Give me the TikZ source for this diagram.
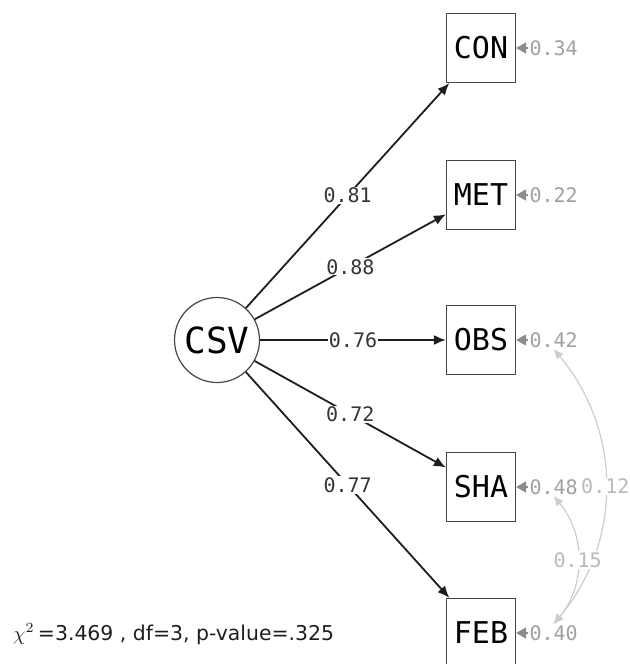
\documentclass[tikz,border=0pt]{standalone}
\usepackage{fontspec}
\setmonofont{DejaVu Sans Mono}
\setsansfont{DejaVu Sans}
\usetikzlibrary{arrows.meta, positioning}
\definecolor{semdark}{RGB}{30,30,30}
\definecolor{semframe}{RGB}{70,70,70}
\definecolor{semres}{RGB}{140,140,140}
\definecolor{semrestext}{RGB}{160,160,160}
\definecolor{semcov}{RGB}{205,205,205}

\begin{document}
\begin{tikzpicture}[x=0.5pt, y=-0.5pt,
  every node/.style={font=\ttfamily},
  latent/.style={circle, draw=semframe, line width=0.6pt, minimum size=42.5pt,
                 inner sep=0pt, font=\ttfamily\fontsize{18}{20}\selectfont},
  manifest/.style={rectangle, draw=semframe, line width=0.6pt, minimum size=34.5pt,
                   inner sep=0pt, font=\ttfamily\fontsize{15}{17}\selectfont},
  load/.style={-{Latex[length=6pt,width=5pt]}, line width=0.9pt, color=semdark},
  loadlbl/.style={fill=white, inner sep=0.5pt, text=semdark!90,
                  font=\ttfamily\fontsize{10}{12}\selectfont},
  res/.style={-{Triangle[length=5pt,width=5.5pt]}, line width=0.8pt, color=semres},
  reslbl/.style={inner sep=0.5pt, text=semrestext,
                 font=\ttfamily\fontsize{10}{12}\selectfont},
  cov/.style={{Latex[length=5pt,width=4.5pt]}-{Latex[length=5pt,width=4.5pt]},
              line width=0.6pt, color=semcov},
  covlbl/.style={fill=white, inner sep=0.5pt, text=semcov!90!black,
                 font=\ttfamily\fontsize{10}{12}\selectfont},
]
\useasboundingbox (0,0) rectangle (630,664);

% Latent factor
\node[latent] (csv) at (217,340) {CSV};

% Indicators
\node[manifest] (con) at (481,48)  {CON};
\node[manifest] (met) at (481,195) {MET};
\node[manifest] (obs) at (481,340) {OBS};
\node[manifest] (sha) at (481,487) {SHA};
\node[manifest] (feb) at (481,633) {FEB};

% Residual variances
\node[reslbl, right=6pt of con] (con-r) {0.34};
\node[reslbl, right=6pt of met] (met-r) {0.22};
\node[reslbl, right=6pt of obs] (obs-r) {0.42};
\node[reslbl, right=6pt of sha] (sha-r) {0.48};
\node[reslbl, right=6pt of feb] (feb-r) {0.40};

\draw[res] (con-r.west) -- (con.east);
\draw[res] (met-r.west) -- (met.east);
\draw[res] (obs-r.west) -- (obs.east);
\draw[res] (sha-r.west) -- (sha.east);
\draw[res] (feb-r.west) -- (feb.east);

% Loadings
\draw[load] (csv) -- node[loadlbl]{0.81} (con);
\draw[load] (csv) -- node[loadlbl]{0.88} (met);
\draw[load] (csv) -- node[loadlbl]{0.76} (obs);
\draw[load] (csv) -- node[loadlbl]{0.72} (sha);
\draw[load] (csv) -- node[loadlbl]{0.77} (feb);

% Residual covariances
\draw[cov] (obs-r.south) to[bend left=40] node[covlbl]{0.12} (feb-r.north);
\draw[cov] (sha-r.south) to[bend left=40] node[covlbl]{0.15} (feb-r.north);

% Fit statistics
\node[anchor=west, text=semdark, font=\sffamily\fontsize{10.2}{12}\selectfont]
  (fit) at (6,634) {$\chi^{2}$\,=3.469 , df=3, p-value=.325};

\end{tikzpicture}
\end{document}
